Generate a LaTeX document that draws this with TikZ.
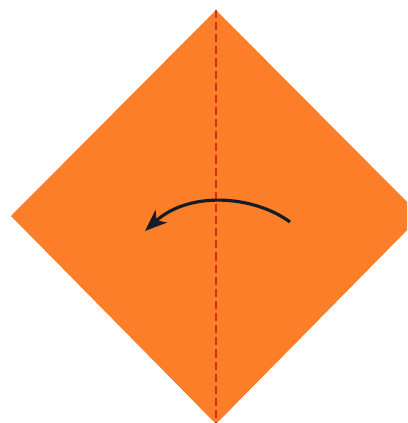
\documentclass[tikz,border=0pt]{standalone}
\usepackage{xcolor}
\usetikzlibrary{arrows.meta}
\definecolor{paperorange}{RGB}{253,126,40}
\definecolor{foldred}{RGB}{208,50,30}
\definecolor{arrowink}{RGB}{20,28,38}

\begin{document}
\begin{tikzpicture}[
  x=0.02cm, y=-0.02cm,
  paper/.style={fill=paperorange, draw=none},
  foldline/.style={foldred, line width=1.6pt, dash pattern=on 4.6pt off 2.3pt},
  turnarr/.style={-{Stealth[length=4.4mm, width=3.4mm, inset=1.3mm]}, arrowink, line width=1.8pt}
]
\useasboundingbox (0,0) rectangle (407,423);
\clip (0,0) rectangle (407,423);
% the square of paper, turned on its corner
\coordinate (top) at (216,10);
\coordinate (left) at (11,216);
\coordinate (right) at (421,216);
\coordinate (bottom) at (216,424);
\fill[paper] (top) -- (right) -- (bottom) -- (left) -- cycle;
% valley fold
\draw[foldline] (top) -- (bottom);
% fold over to the left
\coordinate (from) at (290,222);
\coordinate (to) at (145,231);
\draw[turnarr] (from) .. controls (255,196) and (190,190) .. (to);
\end{tikzpicture}
\end{document}
